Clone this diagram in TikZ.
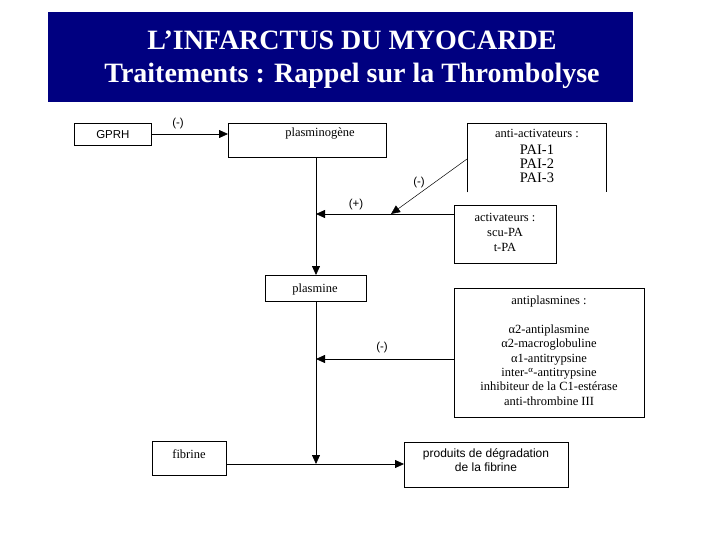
\documentclass[tikz,border=0pt]{standalone}
\usepackage{fontspec}
\setmainfont{Liberation Serif}
\newfontfamily\arialf{Liberation Sans}
\usetikzlibrary{arrows.meta}
\definecolor{banner}{RGB}{0,0,128}
\begin{document}
\begin{tikzpicture}[x=1pt,y=-1pt,
  box/.style={draw,line width=0.8pt,inner sep=0pt,anchor=north west},
  lbl/.style={font=\arialf\fontsize{11.5}{13}\selectfont,inner sep=0pt},
  stxt/.style={font=\fontsize{12.5}{14}\selectfont,inner sep=0pt},
  conn/.style={line width=0.8pt,-{Triangle[length=9pt,width=8pt]}},
  plain/.style={line width=0.8pt}]
\useasboundingbox (0,0) rectangle (720,540);
\fill[white] (0,0) rectangle (720,540);
% banner
\node[fill=banner,minimum width=585pt,minimum height=90pt,inner sep=0pt,anchor=north west] (ban) at (48,12) {};
\node[text=white,font=\bfseries\fontsize{28}{33}\selectfont,align=center,inner sep=0pt] (title) at (352,60) {L’INFARCTUS DU MYOCARDE\\Traitements : Rappel sur la Thrombolyse};
% boxes
\node[box,minimum width=77pt,minimum height=22pt] (gprh) at (74,123) {};
\node[lbl] at (gprh.center) {GPRH};
\node[box,minimum width=158pt,minimum height=34pt] (plg) at (228,123) {};
\node[stxt] at (320,134) {plasminogène};
\node[minimum width=139pt,minimum height=69pt,inner sep=0pt,anchor=north west] (anti) at (467,123) {};
\draw[plain] (anti.south west) -- (anti.north west) -- (anti.north east) -- (anti.south east);
\node[stxt] at (537,133) {anti-activateurs :};
\node[font=\fontsize{14.5}{16}\selectfont,inner sep=0pt] at (537,150) {PAI-1};
\node[font=\fontsize{14.5}{16}\selectfont,inner sep=0pt] at (537,164) {PAI-2};
\node[font=\fontsize{14.5}{16}\selectfont,inner sep=0pt] at (537,178) {PAI-3};
\node[box,minimum width=102pt,minimum height=58pt] (act) at (454,205) {};
\node[stxt,align=center,font=\fontsize{12.5}{15}\selectfont] at (505,232) {activateurs :\\scu-PA\\t-PA};
\node[box,minimum width=101pt,minimum height=26pt] (pls) at (265,275) {};
\node[stxt] at (315,289) {plasmine};
\node[box,minimum width=190pt,minimum height=129pt] (antip) at (454,288) {};
\node[stxt] at (549,301) {antiplasmines :};
\node[stxt,align=center,font=\fontsize{12.5}{14.4}\selectfont] at (549,365) {α2-antiplasmine\\α2-macroglobuline\\α1-antitrypsine\\inter-\textsuperscript{α}-antitrypsine\\inhibiteur de  la C1-estérase\\anti-thrombine III};
\node[box,minimum width=74pt,minimum height=34pt] (fib) at (152,441) {};
\node[stxt] at (189,454) {fibrine};
\node[box,minimum width=164pt,minimum height=45pt] (pdf) at (404,442) {};
\node[lbl,align=center,font=\arialf\fontsize{12}{13.5}\selectfont] at (486,460) {produits de dégradation\\de la fibrine};
% coordinates
\coordinate (j1) at (316,214);
\coordinate (j2) at (316,359);
\coordinate (j3) at (316,464);
\coordinate (a1) at (467,159);
\coordinate (a2) at (391,214);
% connectors
\draw[conn] (gprh.east |- 0,134) -- (plg.west |- 0,134);
\node[lbl] at (178,124) {(-)};
\draw[conn] (plg.south -| j1) -- (pls.north -| j1);
\draw[conn] (act.west |- j1) -- (j1);
\node[lbl] at (356,205) {(+)};
\draw[conn,line width=0.5pt] (a1) -- (a2);
\node[lbl] at (419,183) {(-)};
\draw[conn] (pls.south -| j2) -- (j3);
\draw[conn] (antip.west |- j2) -- (j2);
\node[lbl] at (382,348) {(-)};
\draw[conn] (fib.east |- j3) -- (pdf.west |- j3);
\end{tikzpicture}
\end{document}
